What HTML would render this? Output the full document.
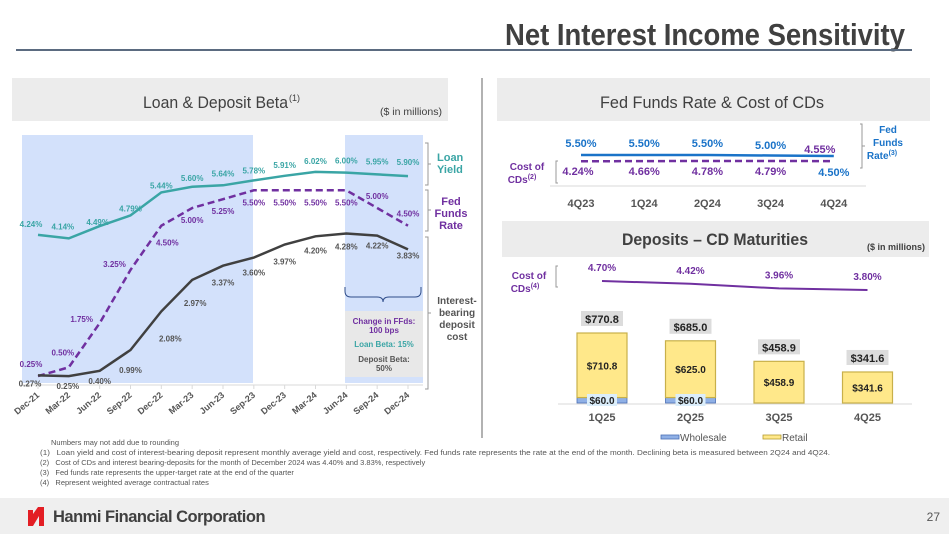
<!DOCTYPE html>
<html><head><meta charset="utf-8"><style>
body{margin:0;background:#fff;}
svg{display:block;font-family:"Liberation Sans",Arial,sans-serif;}
</style></head><body>
<svg id="s" width="949" height="534" viewBox="0 0 949 534">
<text x="505" y="45" textLength="400" lengthAdjust="spacingAndGlyphs" font-size="31" font-weight="bold" fill="#404040">Net Interest Income Sensitivity</text>
<rect x="16" y="49" width="896" height="2" fill="#5b6b80"/>
<line x1="482" y1="78" x2="482" y2="438" stroke="#666" stroke-width="1"/>
<rect x="12" y="78" width="436" height="43" fill="#ececec"/>
<text x="143" y="108" textLength="145" lengthAdjust="spacingAndGlyphs" font-size="17" fill="#404040">Loan &amp; Deposit Beta</text>
<text x="289" y="101" font-size="9" fill="#404040">(1)</text>
<text x="442" y="115" text-anchor="end" textLength="62" lengthAdjust="spacingAndGlyphs" font-size="10" fill="#404040">($ in millions)</text>
<rect x="497" y="78" width="433" height="43" fill="#ececec"/>
<text x="600" y="108" textLength="224" lengthAdjust="spacingAndGlyphs" font-size="17" fill="#404040">Fed Funds Rate &amp; Cost of CDs</text>
<g id="left">
<rect x="22" y="135" width="231" height="248" fill="#d3e1fb"/>
<rect x="345" y="135" width="78" height="248" fill="#d3e1fb"/>
<rect x="345" y="311" width="78" height="66" fill="#e8e8e8"/>
<path d="M345 287 v4 q0 6 6 6 h26 q6 0 6 5 q0-5 6-5 h26 q6 0 6-6 v-4" fill="none" stroke="#2f4d8a" stroke-width="1"/>
<text x="384" y="324" text-anchor="middle" font-size="8" font-weight="bold" fill="#7030a0">Change in FFds:</text>
<text x="384" y="333" text-anchor="middle" font-size="8" font-weight="bold" fill="#7030a0">100 bps</text>
<text x="384" y="347" text-anchor="middle" font-size="8" font-weight="bold" fill="#3aa5a5">Loan Beta: 15%</text>
<text x="384" y="362" text-anchor="middle" font-size="8" font-weight="bold" fill="#555">Deposit Beta:</text>
<text x="384" y="371" text-anchor="middle" font-size="8" font-weight="bold" fill="#555">50%</text>
<line x1="22" y1="385" x2="423" y2="385" stroke="#d9d9d9" stroke-width="1"/>
<path d="M425 143h3v42h-3 M428 164h3 M425 190h3v41h-3 M428 210h3 M425 237h3v152h-3 M428 313h3" fill="none" stroke="#999" stroke-width="1"/>
<text x="437" y="161" font-size="11" font-weight="bold" fill="#3aa5a5"><tspan x="437">Loan</tspan><tspan x="437" dy="12">Yield</tspan></text>
<text x="451" y="205" text-anchor="middle" font-size="11" font-weight="bold" fill="#7030a0"><tspan x="451">Fed</tspan><tspan x="451" dy="12">Funds</tspan><tspan x="451" dy="12">Rate</tspan></text>
<text x="457" y="304" text-anchor="middle" font-size="10" font-weight="bold" fill="#555"><tspan x="457">Interest-</tspan><tspan x="457" dy="12">bearing</tspan><tspan x="457" dy="12">deposit</tspan><tspan x="457" dy="12">cost</tspan></text>
</g>
<g id="rt">
<line x1="550" y1="186" x2="866" y2="186" stroke="#d9d9d9"/>
<path d="M860 124h2v44h-2 M862 146h3" fill="none" stroke="#999"/>
<text x="888" y="133" text-anchor="middle" font-size="10" font-weight="bold" fill="#1a73c8"><tspan x="888">Fed</tspan><tspan x="888" dy="13">Funds</tspan><tspan x="882" dy="13">Rate</tspan><tspan font-size="7" dy="-4">(3)</tspan></text>
<path d="M558 161h-2v22h2" fill="none" stroke="#999"/>
<text x="527" y="170" text-anchor="middle" font-size="10" font-weight="bold" fill="#7030a0"><tspan x="527">Cost of</tspan><tspan x="522" dy="13">CDs</tspan><tspan font-size="7" dy="-4">(2)</tspan></text>
</g>
<rect x="502" y="221" width="427" height="36" fill="#ececec"/>
<text x="622" y="245" textLength="186" lengthAdjust="spacingAndGlyphs" font-size="17" font-weight="bold" fill="#404040">Deposits – CD Maturities</text>
<text x="925" y="250" text-anchor="end" font-size="9" font-weight="bold" fill="#404040">($ in millions)</text>
<g id="cd">
<path d="M558 266h-2v21h2" fill="none" stroke="#999"/>
<text x="529" y="279" text-anchor="middle" font-size="10" font-weight="bold" fill="#7030a0"><tspan x="529">Cost of</tspan><tspan x="525" dy="13">CDs</tspan><tspan font-size="7" dy="-4">(4)</tspan></text>
<line x1="558" y1="404" x2="912" y2="404" stroke="#d9d9d9"/>
<rect x="661" y="435" width="18" height="4" fill="#8fb0e6" stroke="#4a6fb5" stroke-width="0.8"/>
<text x="680" y="441" font-size="10" fill="#555">Wholesale</text>
<rect x="763" y="435" width="18" height="4" fill="#ffe88a" stroke="#b59b30" stroke-width="0.8"/>
<text x="782" y="441" font-size="10" fill="#555">Retail</text>
</g>
<g font-size="7.5" fill="#555">
<text x="51" y="445">Numbers may not add due to rounding</text>
<text x="40" y="455" textLength="790" lengthAdjust="spacingAndGlyphs">(1)&#160;&#160;&#160;Loan yield and cost of interest-bearing deposit represent monthly average yield and cost, respectively. Fed funds rate represents the rate at the end of the month. Declining beta is measured between 2Q24 and 4Q24.</text>
<text x="40" y="465">(2)&#160;&#160;&#160;Cost of CDs and interest bearing-deposits for the month of December 2024 was 4.40% and 3.83%, respectively</text>
<text x="40" y="475">(3)&#160;&#160;&#160;Fed funds rate represents the upper-target rate at the end of the quarter</text>
<text x="40" y="485">(4)&#160;&#160;&#160;Represent weighted average contractual rates</text>
</g>
<rect x="0" y="498" width="949" height="36" fill="#efefef"/>
<path d="M28 510h5v4l5-7h6v19h-5v-10l-6 10h-5z" fill="#e31e24"/>
<text x="53" y="522" font-size="16.5" font-weight="bold" fill="#404040" letter-spacing="-0.5">Hanmi Financial Corporation</text>
<text x="940" y="521" text-anchor="end" font-size="12" fill="#555">27</text>
</svg>
<script>
const NS='http://www.w3.org/2000/svg';
function mk(p,t,a,txt){const e=document.createElementNS(NS,t);for(const k in a)e.setAttribute(k,a[k]);if(txt!==undefined)e.textContent=txt;p.appendChild(e);return e;}
// ---- left chart data
const months=['Dec-21','Mar-22','Jun-22','Sep-22','Dec-22','Mar-23','Jun-23','Sep-23','Dec-23','Mar-24','Jun-24','Sep-24','Dec-24'];
const loanYield=[4.24,4.14,4.49,4.79,5.44,5.60,5.64,5.78,5.91,6.02,6.00,5.95,5.90];
const fedFunds=[0.25,0.50,1.75,3.25,4.50,5.00,5.25,5.50,5.50,5.50,5.50,5.00,4.50];
const depositCost=[0.27,0.25,0.40,0.99,2.08,2.97,3.37,3.60,3.97,4.20,4.28,4.22,3.83];
const L=document.getElementById('left');
const lx=i=>38+i*(370/(months.length-1));
const ly=v=>385-v*35.4;
function line(p,vals,xf,yf,attrs){const d=vals.map((v,i)=>(i?'L':'M')+xf(i).toFixed(1)+' '+yf(v).toFixed(1)).join(' ');return mk(p,'path',Object.assign({d:d,fill:'none'},attrs));}
let e;
e=line(L,loanYield,lx,ly,{stroke:'#3aa5a5','stroke-width':2.5});


e=line(L,fedFunds,lx,ly,{stroke:'#7030a0','stroke-width':2.5,'stroke-dasharray':'7 4'});


e=line(L,depositCost,lx,ly,{stroke:'#404040','stroke-width':2.5});


// label placement offsets (layout only)
const yLdx=[-7,-6,-2,0,0,0,0,0,0,0,0,0,0], yLdy=[-8,-9,-1,-4,-4,-6,-9,-7,-8,-8,-9,-10,-11];
const fLdx=[-7,-6,-18,-16,6,0,0,0,0,0,0,0,0], fLdy=[-9,-12,-1,-3,20,15,15,15,15,15,15,-9,-9];
const dLdx=[-8,-1,0,0,9,3,0,0,0,0,0,0,0], dLdy=[11,13,13,23,30,26,20,18,20,17,16,13,9];
months.forEach((m,i)=>{
  e=mk(L,'text',{x:lx(i)+yLdx[i],y:ly(loanYield[i])+yLdy[i],'text-anchor':'middle','font-size':8,'font-weight':'bold',fill:'#3aa5a5'},loanYield[i].toFixed(2)+'%');
  
  
  e=mk(L,'text',{x:lx(i)+fLdx[i],y:ly(fedFunds[i])+fLdy[i],'text-anchor':'middle','font-size':8,'font-weight':'bold',fill:'#7030a0'},fedFunds[i].toFixed(2)+'%');
  
  
  e=mk(L,'text',{x:lx(i)+dLdx[i],y:ly(depositCost[i])+dLdy[i],'text-anchor':'middle','font-size':8,'font-weight':'bold',fill:'#555'},depositCost[i].toFixed(2)+'%');
  
  
  mk(L,'line',{x1:lx(i),y1:385,x2:lx(i),y2:389,stroke:'#d9d9d9'});
  e=mk(L,'text',{x:lx(i)+2,y:396,'text-anchor':'end','font-size':9,'font-weight':'bold',fill:'#555',transform:'rotate(-40 '+(lx(i)+2)+' 396)'},m);
  
  
});
// ---- top right chart data
const quarters=['4Q23','1Q24','2Q24','3Q24','4Q24'];
const ffrQ=[5.50,5.50,5.50,5.00,4.50];
const cdQ=[4.24,4.66,4.78,4.79,4.55];
const R=document.getElementById('rt');
const qx=i=>581+i*63.2;
const qy=v=>155+(5.5-v)*1.0;
const cy=v=>161+(4.79-v)*0.6;
e=line(R,ffrQ,qx,qy,{stroke:'#1a73c8','stroke-width':2.5});


e=line(R,cdQ,qx,cy,{stroke:'#7030a0','stroke-width':2.5,'stroke-dasharray':'7 4'});


quarters.forEach((q,i)=>{
  e=mk(R,'text',{x:qx(i),y:i<3?147:(i===3?149:176),'text-anchor':'middle','font-size':11,'font-weight':'bold',fill:'#1a73c8'},ffrQ[i].toFixed(2)+'%');
  
  
  e=mk(R,'text',{x:qx(i)-(i===4?14:0)+(i===0?-3:0),y:i===4?153:175,'text-anchor':'middle','font-size':11,'font-weight':'bold',fill:'#7030a0'},cdQ[i].toFixed(2)+'%');
  
  
  e=mk(R,'text',{x:qx(i),y:207,'text-anchor':'middle','font-size':11,'font-weight':'bold',fill:'#555'},q);
  
  
});
// ---- CD maturity chart data
const matQ=['1Q25','2Q25','3Q25','4Q25'];
const wholesale=[60.0,60.0,0,0];
const retail=[710.8,625.0,458.9,341.6];
const cdRate=[4.70,4.42,3.96,3.80];
const C=document.getElementById('cd');
const bx=i=>602+i*88.5;
const by=v=>403-v*0.0908;
const ry=v=>281+(4.70-v)*10;
e=line(C,cdRate,bx,ry,{stroke:'#7030a0','stroke-width':2});


matQ.forEach((q,i)=>{
  const x=bx(i),w=50,tot=wholesale[i]+retail[i];
  e=mk(C,'text',{x:x,y:ry(cdRate[i])-10,'text-anchor':'middle','font-size':10,'font-weight':'bold',fill:'#7030a0'},cdRate[i].toFixed(2)+'%');
  
  
  if(wholesale[i]>0){
    e=mk(C,'rect',{x:x-w/2,y:by(wholesale[i]),width:w,height:403-by(wholesale[i]),fill:'#8fb0e6',stroke:'#4a6fb5','stroke-width':0.8});
    
    
  }
  e=mk(C,'rect',{x:x-w/2,y:by(tot),width:w,height:by(wholesale[i])-by(tot),fill:'#ffe88a',stroke:'#c8b04a','stroke-width':1.2});
  
  
  e=mk(C,'text',{x:x,y:(by(tot)+by(wholesale[i]))/2+4,'text-anchor':'middle','font-size':10,'font-weight':'bold',fill:'#222'},'$'+retail[i].toFixed(1));
  
  
  e=mk(C,'rect',{x:x-21,y:by(tot)-22,width:42,height:15,fill:'#dcdcdc'});
  
  
  e=mk(C,'text',{x:x,y:by(tot)-10,'text-anchor':'middle','font-size':11,'font-weight':'bold',fill:'#222'},'$'+tot.toFixed(1));
  
  
  if(wholesale[i]>0){
    e=mk(C,'rect',{x:x-15,y:394,width:30,height:12,fill:'#dbeefb'});
    
    
    e=mk(C,'text',{x:x,y:404,'text-anchor':'middle','font-size':10,'font-weight':'bold',fill:'#222'},'$'+wholesale[i].toFixed(1));
    
    
  }
  e=mk(C,'text',{x:x,y:421,'text-anchor':'middle','font-size':11,'font-weight':'bold',fill:'#555'},q);
  
  
});
</script>
</body></html>
